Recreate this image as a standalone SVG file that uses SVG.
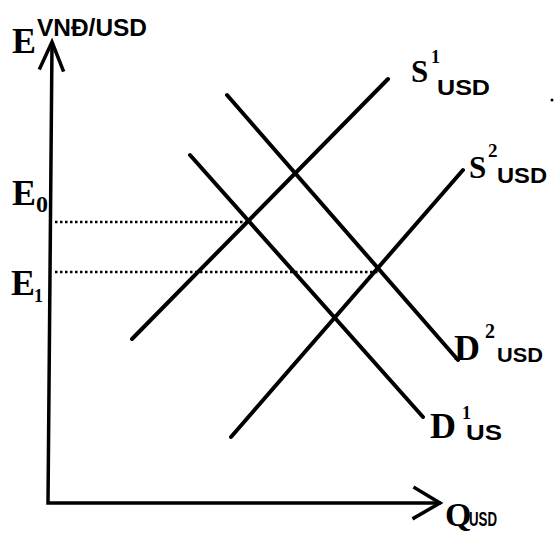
<svg xmlns="http://www.w3.org/2000/svg" width="556" height="539" viewBox="0 0 556 539">
<style>
.ln{stroke:#000;stroke-width:4;stroke-linecap:round;fill:none}
.ax{stroke:#000;stroke-width:3.5;fill:none;stroke-linecap:square}
.dot{stroke:#000;stroke-width:2.5;stroke-dasharray:2.5 2.5;fill:none}
.sf{font-family:"Liberation Serif","Times New Roman",serif;font-weight:bold;fill:#000}
.ss{font-family:"Liberation Sans",Arial,sans-serif;font-weight:bold;fill:#000}
</style>
<rect width="556" height="539" fill="#fff"/>
<g id="axes">
<path class="ax" d="M52,44 L48,503 L439,503"/>
<path class="ax" d="M40,68 L52,42 L63,70" stroke-linejoin="miter"/>
<path class="ax" d="M415,488 L440,503 L414,518"/>
</g>
<g id="connectors">
<line class="dot" x1="55" y1="222" x2="248" y2="222"/>
<line class="dot" x1="55" y1="272" x2="378" y2="272"/>
</g>
<g id="S1"><line class="ln" x1="132" y1="339" x2="388" y2="79"/></g>
<g id="S2"><line class="ln" x1="231" y1="437" x2="463" y2="170"/></g>
<g id="D1"><line class="ln" x1="190" y1="155" x2="423" y2="417"/></g>
<g id="D2"><line class="ln" x1="227" y1="95" x2="458" y2="360"/></g>
<g id="labels">
<text class="sf" x="12" y="53" font-size="36">E</text>
<text class="ss" x="37" y="36" font-size="23" textLength="110" lengthAdjust="spacingAndGlyphs">VNĐ/USD</text>
<text class="sf" x="12" y="205" font-size="36">E</text>
<text class="sf" x="36" y="212" font-size="24" font-weight="normal">0</text>
<text class="sf" x="11" y="295" font-size="36">E</text>
<text class="sf" x="34" y="302" font-size="18">1</text>
<text class="sf" x="411" y="82" font-size="31">S</text>
<text class="sf" x="431" y="63" font-size="18">1</text>
<text class="ss" x="437" y="95" font-size="22" textLength="53" lengthAdjust="spacingAndGlyphs">USD</text>
<text class="sf" x="469" y="178" font-size="31">S</text>
<text class="sf" x="488" y="157" font-size="19">2</text>
<text class="ss" x="497" y="183" font-size="22" textLength="50" lengthAdjust="spacingAndGlyphs">USD</text>
<text class="sf" x="454" y="360" font-size="36">D</text>
<text class="sf" x="485" y="338" font-size="20">2</text>
<text class="ss" x="497" y="362" font-size="21" textLength="46" lengthAdjust="spacingAndGlyphs">USD</text>
<text class="sf" x="430" y="438" font-size="36">D</text>
<text class="sf" x="462" y="419" font-size="18">1</text>
<text class="ss" x="466" y="440" font-size="22" textLength="36" lengthAdjust="spacingAndGlyphs">US</text>
<text class="sf" x="445" y="526" font-size="34" font-weight="normal">Q</text>
<text class="ss" x="469" y="526" font-size="20" textLength="28" lengthAdjust="spacingAndGlyphs">USD</text>
<circle cx="552" cy="100" r="1.5" fill="#000"/>
</g>
</svg>
